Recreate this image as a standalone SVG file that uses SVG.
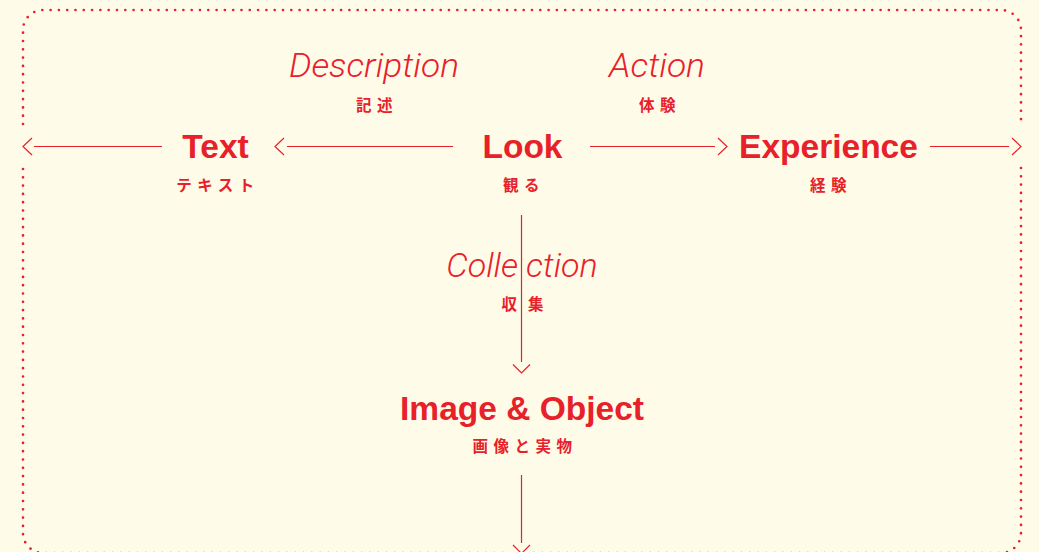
<svg xmlns="http://www.w3.org/2000/svg" width="1039" height="552" viewBox="0 0 1039 552">
  <style>
    .title { font-family: "Liberation Sans", Arial, sans-serif; font-weight: 700; font-size: 33.5px; fill: #e8202a; text-anchor: middle; }
    .sub { font-family: "Noto Sans CJK JP", "Noto Sans", sans-serif; font-weight: 700; font-size: 15.5px; fill: #e8202a; text-anchor: middle; letter-spacing: 5.5px; }
    .verb { font-family: Roboto, "Liberation Sans", sans-serif; font-weight: 300; font-style: italic; font-size: 34px; fill: #e8202a; text-anchor: middle; }
    .line { stroke: #e8202a; stroke-width: 1.2; fill: none; }
    .head { stroke: #e8202a; stroke-width: 1.2; fill: none; stroke-linejoin: miter; }
    .frame { stroke: #e8202a; stroke-width: 2.7; fill: none; stroke-linecap: round; stroke-dasharray: 0 8.3; }
  </style>
  <rect width="1039" height="552" fill="#fffbe9"/>

  <!-- dotted boundary, open where the arrows leave it -->
  <g id="frame">
    <path class="frame" d="M23,124 V30 A20,20 0 0 1 43,10 H1001 A20,20 0 0 1 1021,30 V123"/>
    <path class="frame" d="M23,169 V533 A20,20 0 0 0 43,553 H510"/>
    <path class="frame" d="M1021,168 V533 A20,20 0 0 1 1001,553 H532"/>
  </g>

  <!-- connectors -->
  <g id="connectors">
    <!-- out of the frame to the left -->
    <line class="line" x1="34" y1="146.5" x2="162" y2="146.5"/>
    <polyline class="head" points="32,138 23,146.5 32,155"/>
    <!-- Look to Text -->
    <line class="line" x1="287" y1="146.5" x2="453" y2="146.5"/>
    <polyline class="head" points="284,138 275,146.5 284,155"/>
    <!-- Look to Experience -->
    <line class="line" x1="590" y1="146.5" x2="715" y2="146.5"/>
    <polyline class="head" points="718,138 727,146.5 718,155"/>
    <!-- out of the frame to the right -->
    <line class="line" x1="930" y1="146.5" x2="1009" y2="146.5"/>
    <polyline class="head" points="1012,138 1021,146.5 1012,155"/>
    <!-- Look down to Image & Object -->
    <line class="line" x1="521.5" y1="215" x2="521.5" y2="362"/>
    <polyline class="head" points="513,364.5 521.5,373 530,364.5"/>
    <!-- down out of the frame -->
    <line class="line" x1="521.5" y1="475" x2="521.5" y2="543"/>
    <polyline class="head" points="513,545 521.5,553.5 530,545"/>
  </g>

  <!-- edge labels -->
  <g id="label-description">
    <text class="verb" x="374" y="77" textLength="170" lengthAdjust="spacingAndGlyphs">Description</text>
    <text class="sub" x="377" y="111">記述</text>
  </g>
  <g id="label-action">
    <text class="verb" x="657" y="77" textLength="96" lengthAdjust="spacingAndGlyphs">Action</text>
    <text class="sub" x="660" y="111">体験</text>
  </g>
  <g id="label-collection">
    <text class="verb" y="277"><tspan x="518" text-anchor="end">Colle</tspan><tspan x="526" text-anchor="start">ction</tspan></text>
    <text class="sub" x="528" y="310" style="letter-spacing:11px">収集</text>
  </g>

  <!-- nodes -->
  <g id="node-text">
    <text class="title" x="215.5" y="158">Text</text>
    <text class="sub" x="218" y="191">テキスト</text>
  </g>
  <g id="node-look">
    <text class="title" x="522.5" y="158">Look</text>
    <text class="sub" x="524" y="191">観る</text>
  </g>
  <g id="node-experience">
    <text class="title" x="828.5" y="158">Experience</text>
    <text class="sub" x="831" y="191">経験</text>
  </g>
  <g id="node-image-object">
    <text class="title" x="522" y="420">Image &amp; Object</text>
    <text class="sub" x="525" y="452">画像と実物</text>
  </g>
</svg>
